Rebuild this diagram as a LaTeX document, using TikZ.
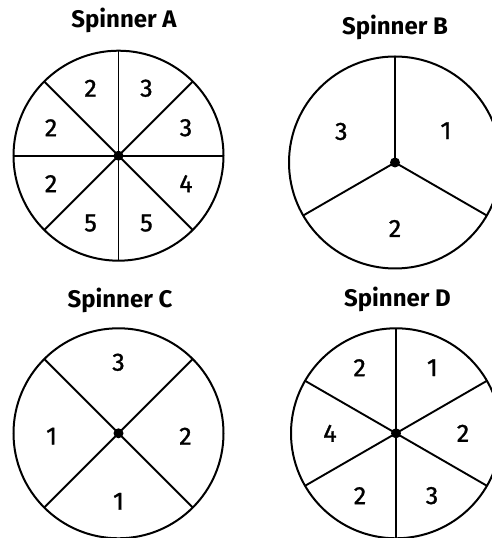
\documentclass[tikz,border=0pt]{standalone}
\usepackage{fontspec}
\setmainfont{Fira Sans}
\newfontfamily\numfont{Fira Sans}[FakeBold=1.2]
\usetikzlibrary{calc}
\begin{document}
\begin{tikzpicture}[x=1pt,y=1pt,
  rim/.style={line width=2pt},
  spoke/.style={line width=1.9pt},
  hub/.style={fill=black,circle,inner sep=0pt,minimum size=10pt},
  num/.style={font=\numfont\fontsize{25}{25}\selectfont,inner sep=0pt},
  ttl/.style={font=\fontsize{24}{24}\selectfont\bfseries,anchor=base,inner sep=0pt}]
\useasboundingbox (0,0) rectangle (491,538);
% Spinner A
\coordinate (Ac) at (118.5,382.3);
\node[ttl] (At) at (124,510.3) {Spinner A};
\draw[rim] (Ac) circle (105);
\foreach \a in {0,45,90,135}{\draw[spoke] (Ac) ++(\a:105) -- ++(\a+180:210);}
\node[hub] (Ah) at (Ac) {};
\foreach \a/\t in {67.5/3,112.5/2,157.5/2,202.5/2,247.5/5,292.5/5,337.5/4,22.5/3}
  {\node[num] at ($(Ac)+(\a:73)$) {\t};}
% Spinner B
\coordinate (Bc) at (395,375.5);
\node[ttl] (Bt) at (395,503.3) {Spinner B};
\draw[rim] (Bc) circle (106);
\foreach \a in {90,210,330}{\draw[spoke] (Bc) -- ++(\a:106);}
\node[hub] (Bh) at (Bc) {};
\node[num] (B1) at ($(Bc)+(32:60)$) {1};
\node[num] (B3) at ($(Bc)+(150:62)$) {3};
\node[num] (B2) at ($(Bc)+(270:66)$) {2};
% Spinner C
\coordinate (Cc) at (118.5,104.7);
\node[ttl] (Ct) at (120,230.7) {Spinner C};
\draw[rim] (Cc) circle (105);
\foreach \a in {45,135}{\draw[spoke] (Cc) ++(\a:105) -- ++(\a+180:210);}
\node[hub] (Ch) at (Cc) {};
\node[num] (C3) at ($(Cc)+(90:71)$) {3};
\node[num] (C1a) at ($(Cc)+(182.5:67)$) {1};
\node[num] (C2) at ($(Cc)+(-2.5:67)$) {2};
\node[num] (C1b) at ($(Cc)+(270:68)$) {1};
% Spinner D
\coordinate (Dc) at (396,104.7);
\node[ttl] (Dt) at (397.5,231.7) {Spinner D};
\draw[rim] (Dc) circle (105);
\foreach \a in {30,90,150}{\draw[spoke] (Dc) ++(\a:105) -- ++(\a+180:210);}
\node[hub] (Dh) at (Dc) {};
\foreach \a/\r/\t in {61/75/1,119/75/2,180/66/4,0/67/2,240/72/2,300/72/3}
  {\node[num] at ($(Dc)+(\a:\r)$) {\t};}
\end{tikzpicture}
\end{document}
